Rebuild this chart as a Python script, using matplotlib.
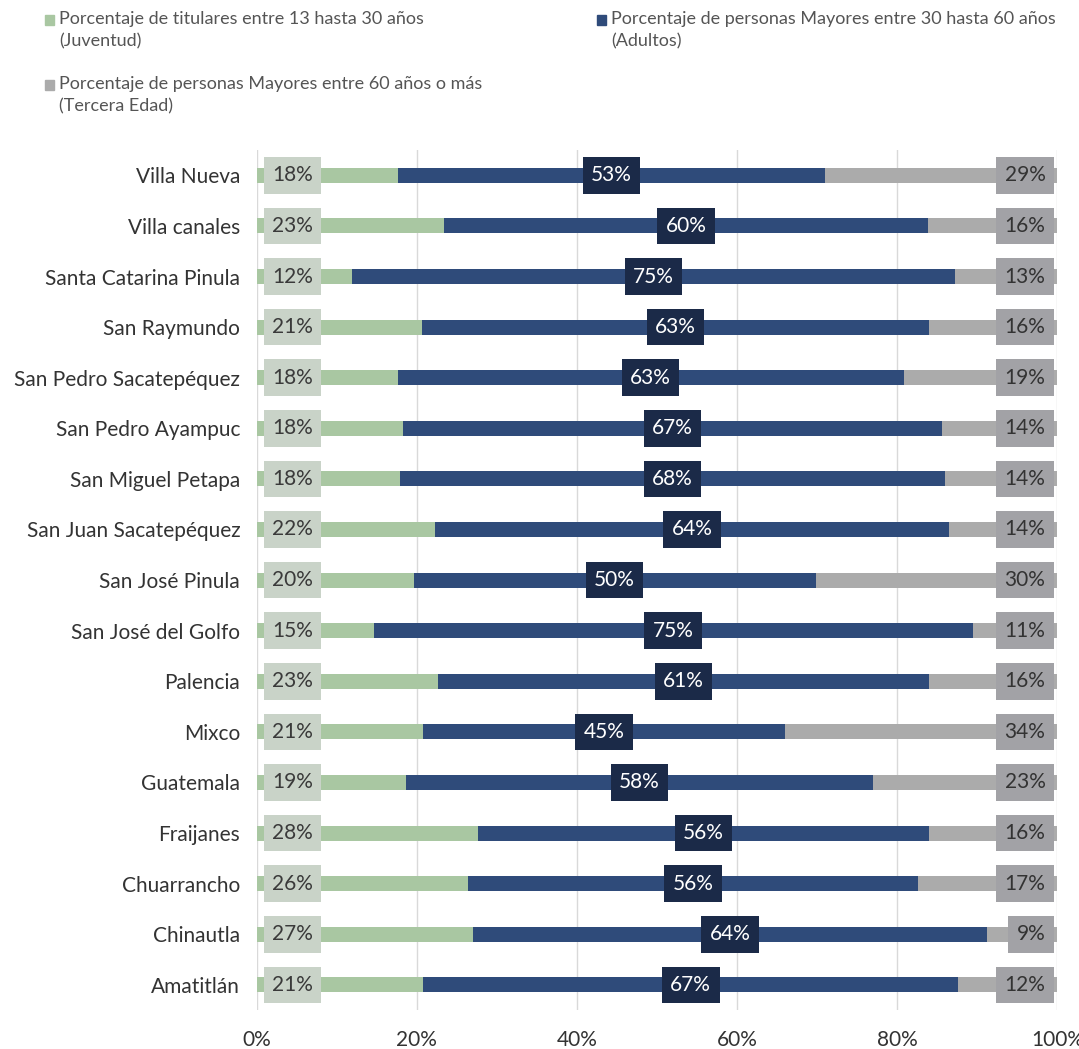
import numpy as np
import matplotlib
matplotlib.use("Agg")
import matplotlib.pyplot as plt
from matplotlib.patches import Rectangle

plt.rcParams['font.family'] = ['Lato', 'DejaVu Sans']

# municipios, de arriba hacia abajo
municipios = ["Villa Nueva", "Villa canales", "Santa Catarina Pinula", "San Raymundo",
              "San Pedro Sacatepéquez", "San Pedro Ayampuc", "San Miguel Petapa",
              "San Juan Sacatepéquez", "San José Pinula", "San José del Golfo",
              "Palencia", "Mixco", "Guatemala", "Fraijanes", "Chuarrancho",
              "Chinautla", "Amatitlán"]

juventud = [17.6, 23.4, 11.9, 20.6, 17.6, 18.3, 17.9, 22.3, 19.6, 14.6,
            22.6, 20.8, 18.6, 27.6, 26.4, 27.0, 20.8]
adultos = [53.4, 60.4, 75.3, 63.4, 63.2, 67.3, 68.0, 64.1, 50.2, 74.8,
           61.4, 45.2, 58.4, 56.4, 56.2, 64.2, 66.8]
tercera = [29.0, 16.2, 12.8, 16.0, 19.2, 14.4, 14.1, 13.6, 30.2, 10.6,
           16.0, 34.0, 23.0, 16.0, 17.4, 8.8, 12.4]

etiquetas_x = ["0%", "20%", "40%", "60%", "80%", "100%"]

leyenda = ["Porcentaje de titulares entre 13 hasta 30 años\n(Juventud)",
           "Porcentaje de personas Mayores entre 30 hasta 60 años\n(Adultos)",
           "Porcentaje de personas Mayores entre 60 años o más\n(Tercera Edad)"]

c_verde, c_verde_lbl = "#a9c7a2", "#c9d3c8"
c_azul, c_azul_lbl = "#2f4b7a", "#1b2a48"
c_gris, c_gris_lbl = "#ababab", "#a2a2a6"

W, H = 1079, 1049
fig = plt.figure(figsize=(W / 100, H / 100), dpi=100)
ax = fig.add_axes([0.238, 0.037, 0.742, 0.82])

y = np.arange(len(municipios))
juv = np.array(juventud)
adu = np.array(adultos)
ter = np.array(tercera)
h = 0.3

ax.barh(y, juv, height=h, color=c_verde, zorder=2)
ax.barh(y, adu, left=juv, height=h, color=c_azul, zorder=2)
ax.barh(y, ter, left=juv + adu, height=h, color=c_gris, zorder=2)

caja = "square,pad=0.4"
for i in range(len(municipios)):
    ax.text(1.9, y[i], "%.0f%%" % juv[i], ha="left", va="center", fontsize=15,
            color="#3a3a3a", zorder=3,
            bbox=dict(boxstyle=caja, fc=c_verde_lbl, ec="none"))
    ax.text(juv[i] + adu[i] / 2, y[i], "%.0f%%" % adu[i], ha="center", va="center",
            fontsize=15, color="white", zorder=3,
            bbox=dict(boxstyle=caja, fc=c_azul_lbl, ec="none"))
    ax.text(98.5, y[i], "%.0f%%" % ter[i], ha="right", va="center", fontsize=15,
            color="#333333", zorder=3,
            bbox=dict(boxstyle=caja, fc=c_gris_lbl, ec="none"))

ax.set_xlim(0, 100)
ax.set_ylim(len(municipios) - 0.5, -0.5)
ax.set_yticks(y)
ax.set_yticklabels(municipios, fontsize=15, color="#333333")
ax.set_xticks(np.arange(0, 101, 20))
ax.set_xticklabels(etiquetas_x, fontsize=15, color="#333333")
ax.tick_params(length=0, pad=12)
ax.tick_params(axis="x", pad=14)
ax.grid(axis="x", color="#d9d9d9", linewidth=1, zorder=0)
for s in ax.spines.values():
    s.set_visible(False)

# leyenda: dos columnas, marcador alineado con la primera linea
pos_leyenda = [(45, 20), (597, 20), (45, 85)]
colores = [c_verde, c_azul, c_gris]
for (px, py), txt, col in zip(pos_leyenda, leyenda, colores):
    fig.patches.append(Rectangle((px / W, 1 - (py + 4.5) / H), 9 / W, 9 / H,
                                 transform=fig.transFigure, color=col))
    fig.text((px + 14) / W, 1 - (py - 9) / H, txt, ha="left", va="top",
             fontsize=13, color="#555555", linespacing=1.45)

fig.savefig("out.png", dpi=100)
